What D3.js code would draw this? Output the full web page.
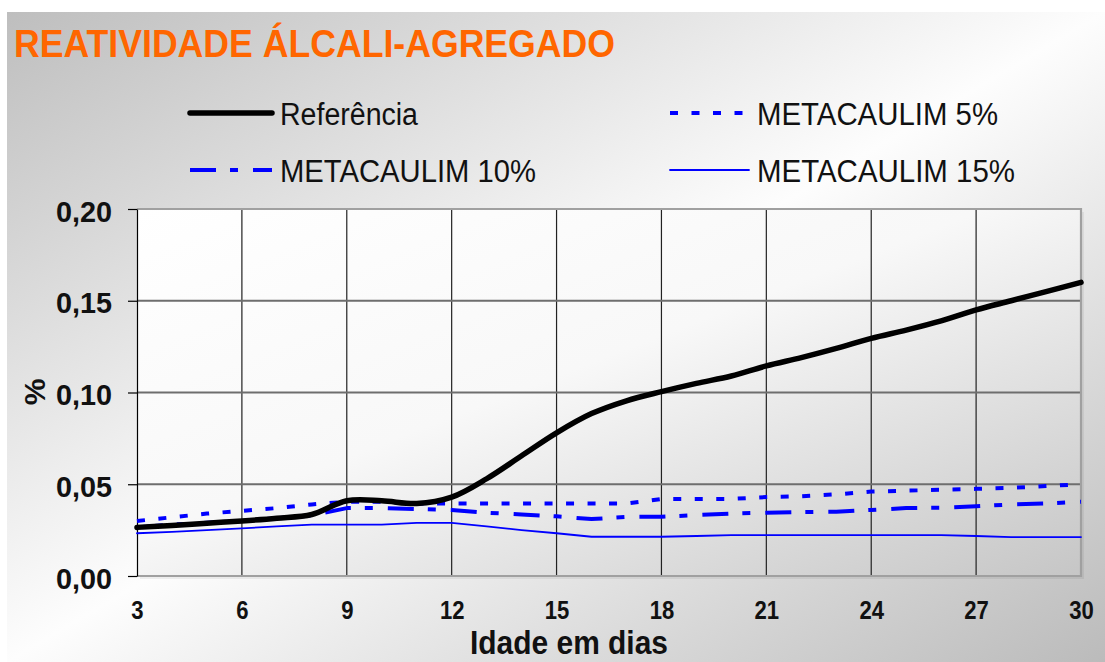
<!DOCTYPE html>
<html>
<head>
<meta charset="utf-8">
<script src="https://cdn.jsdelivr.net/npm/d3@7/dist/d3.min.js"></script>
<style>
  html, body { margin: 0; padding: 0; background: #ffffff; }
  svg { display: block; font-family: "Liberation Sans", Arial, Helvetica, sans-serif; }
</style>
</head>
<body>
<svg id="chart" width="1105" height="662"></svg>
<script>
// Age of the specimens (days)
const days = [3, 4, 5, 6, 7, 8, 9, 10, 11, 12, 13, 14, 15, 16, 17, 18, 19, 20, 21, 22, 23, 24, 25, 26, 27, 28, 29, 30];

// Expansion (%) per mix
const referencia = [0.0265, 0.0275, 0.0288, 0.0300, 0.0315, 0.0335, 0.0410, 0.0410, 0.0395, 0.0430,
                    0.0530, 0.0655, 0.0780, 0.0885, 0.0955, 0.1005, 0.1050, 0.1090, 0.1145, 0.1190,
                    0.1240, 0.1295, 0.1340, 0.1390, 0.1450, 0.1500, 0.1550, 0.1600];
const metacaulim5 = [0.0300, 0.0320, 0.0340, 0.0355, 0.0370, 0.0390, 0.0405, 0.0405, 0.0395, 0.0395,
                     0.0395, 0.0395, 0.0395, 0.0395, 0.0395, 0.0420, 0.0420, 0.0420, 0.0430, 0.0435,
                     0.0445, 0.0460, 0.0465, 0.0470, 0.0475, 0.0480, 0.0490, 0.0500];
const metacaulim10 = [0.0265, 0.0280, 0.0290, 0.0300, 0.0315, 0.0330, 0.0370, 0.0370, 0.0365, 0.0360,
                      0.0345, 0.0335, 0.0325, 0.0310, 0.0322, 0.0323, 0.0332, 0.0340, 0.0345, 0.0348,
                      0.0350, 0.0360, 0.0370, 0.0372, 0.0380, 0.0390, 0.0395, 0.0405];
const metacaulim15 = [0.0233, 0.0240, 0.0250, 0.0260, 0.0270, 0.0280, 0.0280, 0.0280, 0.0290, 0.0290,
                      0.0270, 0.0250, 0.0233, 0.0214, 0.0214, 0.0214, 0.0218, 0.0223, 0.0223, 0.0223,
                      0.0223, 0.0223, 0.0223, 0.0223, 0.0218, 0.0212, 0.0212, 0.0212];

const seriesNames = ["Referência", "METACAULIM 5%", "METACAULIM 10%", "METACAULIM 15%"];
const xTicks = [3, 6, 9, 12, 15, 18, 21, 24, 27, 30];
const yTicks = [0, 0.05, 0.10, 0.15, 0.20];

const titleText = "REATIVIDADE ÁLCALI-AGREGADO";
const xTitle = "Idade em dias";
const yTitle = "%";

// Drawing styles for each series
const styles = {
  "Referência":     { color: "#000000", width: 5.5, dash: null, curve: d3.curveCatmullRom.alpha(0.5) },
  "METACAULIM 5%":  { color: "#0000ff", width: 4, dash: "8,13.5", curve: d3.curveLinear },
  "METACAULIM 10%": { color: "#0000ff", width: 4, dash: "26,14,8,15", curve: d3.curveLinear },
  "METACAULIM 15%": { color: "#0000ff", width: 1.8, dash: null, curve: d3.curveLinear }
};

// Narrow a text element horizontally by a factor, keeping its font size
function condense(sel, factor) {
  sel.each(function () {
    const w = this.getComputedTextLength();
    d3.select(this).attr("textLength", w * factor).attr("lengthAdjust", "spacingAndGlyphs");
  });
}

const svg = d3.select("#chart");
const defs = svg.append("defs");

// Page background: grey corners fading to white across the diagonal
const bg = defs.append("linearGradient").attr("id", "bgGrad")
  .attr("x1", 0).attr("y1", 0).attr("x2", 1).attr("y2", 1);
bg.append("stop").attr("offset", 0).attr("stop-color", "#bebebe");
bg.append("stop").attr("offset", 0.5).attr("stop-color", "#fdfdfd");
bg.append("stop").attr("offset", 1).attr("stop-color", "#bbbbbb");

// Plot area background
const pg = defs.append("linearGradient").attr("id", "plotGrad")
  .attr("x1", 0).attr("y1", 0).attr("x2", 1).attr("y2", 1);
pg.append("stop").attr("offset", 0).attr("stop-color", "#ffffff");
pg.append("stop").attr("offset", 0.45).attr("stop-color", "#f8f8f8");
pg.append("stop").attr("offset", 1).attr("stop-color", "#c6c6c6");

svg.append("rect").attr("x", 7).attr("y", 12).attr("width", 1098).attr("height", 650)
  .attr("fill", "url(#bgGrad)");

// Title
svg.append("text")
  .attr("x", 14).attr("y", 57)
  .attr("font-size", 38).attr("font-weight", "bold")
  .attr("fill", "#ff6600")
  .attr("textLength", 601).attr("lengthAdjust", "spacingAndGlyphs")
  .text(titleText);

// Plot geometry
const margin = { left: 137, right: 1081, top: 209, bottom: 576 };
const x = d3.scaleLinear().domain([3, 30]).range([margin.left, margin.right]);
const y = d3.scaleLinear().domain([0, 0.20]).range([margin.bottom, margin.top]);

// Plot background with soft shadow
svg.append("rect")
  .attr("x", margin.left + 3).attr("y", margin.top + 3)
  .attr("width", margin.right - margin.left).attr("height", margin.bottom - margin.top)
  .attr("fill", "#000").attr("opacity", 0.06);
svg.append("rect")
  .attr("x", margin.left).attr("y", margin.top)
  .attr("width", margin.right - margin.left).attr("height", margin.bottom - margin.top)
  .attr("fill", "url(#plotGrad)");

// Vertical gridlines
svg.append("g").selectAll("line").data(xTicks.slice(1, -1)).join("line")
  .attr("x1", d => x(d)).attr("x2", d => x(d))
  .attr("y1", margin.top).attr("y2", margin.bottom)
  .attr("stroke", "#222").attr("stroke-width", 1.2);

// Horizontal gridlines
svg.append("g").selectAll("line").data(yTicks.slice(1, -1)).join("line")
  .attr("x1", margin.left).attr("x2", margin.right)
  .attr("y1", d => y(d)).attr("y2", d => y(d))
  .attr("stroke", "#6e6e6e").attr("stroke-width", 2);

// Plot frame (top, right, bottom)
svg.append("path")
  .attr("d", `M${margin.left},${margin.top}H${margin.right}V${margin.bottom}H${margin.left}`)
  .attr("fill", "none").attr("stroke", "#a0a0a0").attr("stroke-width", 2.2);

// Y axis
const yAxis = d3.axisLeft(y).tickValues(yTicks).tickSize(9).tickSizeOuter(0)
  .tickFormat(d => d3.format(".2f")(d).replace(".", ","));
const gy = svg.append("g").attr("transform", `translate(${margin.left},0)`).call(yAxis);
gy.select(".domain").attr("stroke", "#000").attr("stroke-width", 1.2);
gy.selectAll(".tick line").attr("stroke", "#000").attr("stroke-width", 1.2);
gy.selectAll(".tick text")
  .attr("x", -25).attr("dy", "0.40em")
  .attr("font-size", 30).attr("font-weight", "bold").attr("fill", "#111")
  .attr("font-family", "'Liberation Sans', Arial, sans-serif")
  .call(condense, 0.96);

// X axis labels
const xAxis = d3.axisBottom(x).tickValues(xTicks).tickSize(0).tickSizeOuter(0).tickFormat(d3.format("d"));
const gx = svg.append("g").attr("transform", `translate(0,${margin.bottom})`).call(xAxis);
gx.select(".domain").remove();
gx.selectAll(".tick text")
  .attr("y", 43).attr("dy", 0)
  .attr("font-size", 26).attr("font-weight", "bold").attr("fill", "#111")
  .attr("font-family", "'Liberation Sans', Arial, sans-serif")
  .call(condense, 0.85);

// Axis titles
svg.append("text")
  .attr("x", 569).attr("y", 654).attr("text-anchor", "middle")
  .attr("font-size", 33).attr("font-weight", "bold").attr("fill", "#111")
  .attr("textLength", 198).attr("lengthAdjust", "spacingAndGlyphs")
  .text(xTitle);
svg.append("text")
  .attr("transform", "translate(45,392) rotate(-90)")
  .attr("text-anchor", "middle")
  .attr("font-size", 30).attr("font-weight", "bold").attr("fill", "#111")
  .text(yTitle);

// Series lines
const seriesData = [referencia, metacaulim5, metacaulim10, metacaulim15];
const drawOrder = [3, 2, 1, 0];
const gLines = svg.append("g");
drawOrder.forEach(i => {
  const name = seriesNames[i];
  const st = styles[name];
  const pts = days.map((d, j) => [d, seriesData[i][j]]);
  const line = d3.line().x(d => x(d[0])).y(d => y(d[1])).curve(st.curve);
  gLines.append("path")
    .datum(pts)
    .attr("d", line)
    .attr("fill", "none")
    .attr("stroke", st.color)
    .attr("stroke-width", st.width)
    .attr("stroke-dasharray", st.dash)
    .attr("stroke-linejoin", "round")
    .attr("stroke-linecap", st.dash ? "butt" : "round");
});

// Legend
const legendPos = [
  { lx: 190, tx: 280, y: 113, w: 138 },
  { lx: 670, tx: 757, y: 113, w: 241 },
  { lx: 190, tx: 280, y: 170, w: 256 },
  { lx: 670, tx: 757, y: 170, w: 258 }
];
const gLeg = svg.append("g");
seriesNames.forEach((name, i) => {
  const st = styles[name];
  const p = legendPos[i];
  gLeg.append("line")
    .attr("x1", p.lx).attr("x2", p.tx - 8)
    .attr("y1", p.y).attr("y2", p.y)
    .attr("stroke", st.color)
    .attr("stroke-width", st.width)
    .attr("stroke-dasharray", st.dash)
    .attr("stroke-linecap", st.dash ? "butt" : "round");
  gLeg.append("text")
    .attr("x", p.tx).attr("y", p.y + 12)
    .attr("font-size", 31).attr("fill", "#111")
    .attr("textLength", p.w).attr("lengthAdjust", "spacingAndGlyphs")
    .text(name);
});
</script>
</body>
</html>
